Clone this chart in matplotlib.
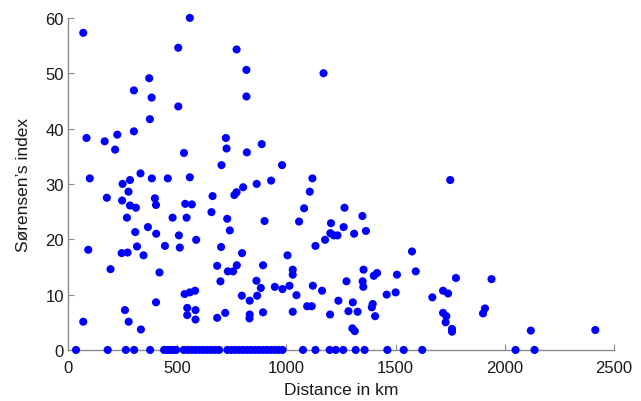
import matplotlib
matplotlib.use("Agg")
import matplotlib.pyplot as plt

plt.rcParams['font.family'] = ['Liberation Sans', 'DejaVu Sans']

# points with index > 0 (distance km, index)
dist = [70, 85, 100, 168, 216, 226, 250, 284, 302, 302, 332, 372, 383, 375, 384, 457,
        505, 505, 531, 558, 558, 703, 723, 726,
        772, 817, 1170, 817, 887, 819, 980, 1119, 802, 864, 930,
        93, 70, 178, 195, 277, 248, 284, 311, 270, 308, 366, 398, 403, 404, 479, 543,
        537, 567, 508, 512, 587, 444, 316, 346, 246, 273, 419, 403, 261, 278, 334,
        534, 558, 582, 546, 584, 546, 584, 662, 657, 729, 741, 701, 683, 732, 698,
        683, 720,
        772, 762, 1107, 1081, 1266, 1348, 1058, 1204, 1262, 1364, 1201, 1217, 1234,
        1177, 1310, 1133, 900, 797, 773, 756, 893, 1005, 1029, 1029, 863, 883, 866,
        947, 982, 1014, 1046, 796, 832, 1121, 1163, 1275, 1349, 1352, 1353, 1400,
        1415, 1506, 1459, 1500, 1238, 1304, 1395, 1391, 1095, 1116, 832, 831, 893,
        1029, 1200, 1284, 1326, 1406, 1302, 1313,
        1750, 1575, 1592, 1776, 1939, 1668, 1717, 1740, 1717, 1732, 1729, 1758,
        1758, 1900, 1909, 2119, 2414]
index = [57.3, 38.3, 31.0, 37.7, 36.2, 38.9, 30.0, 30.7, 46.9, 39.5, 31.9, 49.1, 45.6, 41.7, 31.0, 31.0,
         54.6, 44.0, 35.6, 60.0, 31.2, 33.4, 38.3, 36.4,
         54.3, 50.6, 50.0, 45.8, 37.2, 35.7, 33.4, 31.0, 29.4, 30.0, 30.6,
         18.1, 5.1, 27.5, 14.6, 28.6, 27.0, 26.1, 25.7, 23.9, 21.3, 22.2, 27.4, 26.2, 21.0, 23.9, 23.9,
         26.4, 26.3, 20.7, 18.5, 19.9, 18.8, 18.7, 17.1, 17.5, 17.6, 14.0, 8.6, 7.2, 5.1, 3.7,
         10.1, 10.4, 10.7, 7.6, 7.2, 6.3, 5.5, 27.8, 24.9, 23.7, 21.6, 18.6, 15.2, 14.2, 12.4,
         5.8, 6.7,
         28.5, 28.0, 28.6, 25.6, 25.7, 24.2, 23.2, 22.9, 22.2, 21.5, 21.1, 20.7, 20.7,
         19.9, 21.0, 18.8, 23.3, 17.5, 15.3, 14.2, 15.3, 17.1, 14.5, 13.6, 12.5, 11.2, 9.8,
         11.4, 11.0, 11.6, 9.9, 9.8, 8.9, 11.6, 10.7, 12.4, 12.4, 11.4, 14.5, 13.4,
         13.9, 13.6, 10.0, 10.4, 8.9, 8.6, 8.3, 7.7, 7.9, 7.9, 6.4, 5.7, 6.8,
         6.9, 6.4, 7.0, 6.9, 6.1, 3.9, 3.4,
         30.7, 17.8, 14.2, 13.0, 12.8, 9.5, 10.7, 10.2, 6.7, 6.1, 5.0, 3.8,
         3.3, 6.6, 7.5, 3.5, 3.6]

# points sitting on zero
zero_dist = [37, 182, 265, 303, 376, 440, 455, 468, 482, 495, 530, 548, 566, 584, 602,
             620, 638, 656, 674, 692, 730, 748, 766, 784, 802, 820, 838, 856, 874, 892,
             910, 928, 946, 964, 982, 1076, 1133, 1198, 1226, 1260, 1317, 1358, 1462,
             1537, 1622, 2049, 2136]

fig = plt.figure(figsize=(6.41, 4.02), dpi=100)
ax = fig.add_axes([0.106, 0.127, 0.852, 0.826])

ax.scatter(dist, index, s=34, c='#0000ff', edgecolors='none', clip_on=False, zorder=3)
ax.scatter(zero_dist, [0] * len(zero_dist), s=34, c='#0000ff', edgecolors='none',
           clip_on=False, zorder=3)

ax.set_xlim(0, 2500)
ax.set_ylim(0, 60)
ax.set_xticks([0, 500, 1000, 1500, 2000, 2500])
ax.set_yticks([0, 10, 20, 30, 40, 50, 60])

for s in ['top', 'right']:
    ax.spines[s].set_visible(False)
for s in ['left', 'bottom']:
    ax.spines[s].set_color('#8c8c8c')
    ax.spines[s].set_linewidth(1.0)

ax.tick_params(direction='in', length=4, color='#8c8c8c', labelsize=12,
               labelcolor='#1a1a1a')
ax.tick_params(axis='x', pad=7)
ax.tick_params(axis='y', pad=3)

ax.set_xlabel('Distance in km', fontsize=12.5, color='#1a1a1a', labelpad=5)
ax.set_ylabel('Sørensen’s index', fontsize=12.5, color='#1a1a1a', labelpad=10)

fig.savefig('out.png', dpi=100)
